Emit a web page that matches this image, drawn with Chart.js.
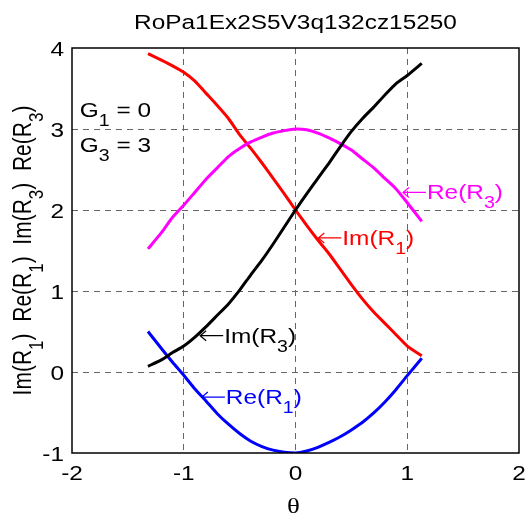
<!DOCTYPE html>
<html>
<head>
<meta charset="utf-8">
<script src="https://cdn.jsdelivr.net/npm/chart.js@4"></script>
<style>
  html, body { margin: 0; padding: 0; background: #fff; }
  canvas { display: block; }
</style>
</head>
<body>
<canvas id="plot" width="528" height="516"></canvas>
<script>
const theta = [-1.32, -1.2, -1.1, -1.0, -0.9, -0.8, -0.7, -0.6, -0.5, -0.4, -0.3, -0.2, -0.1,
  0, 0.1, 0.2, 0.3, 0.4, 0.5, 0.6, 0.7, 0.8, 0.9, 1.0, 1.13];
const imR1 = [3.93, 3.85, 3.78, 3.70, 3.59, 3.44, 3.29, 3.13, 2.93, 2.76, 2.58, 2.39, 2.20,
  2.00, 1.81, 1.63, 1.46, 1.27, 1.08, 0.90, 0.74, 0.60, 0.46, 0.32, 0.20];
const imR3 = [0.07, 0.15, 0.24, 0.32, 0.43, 0.56, 0.70, 0.84, 1.01, 1.20, 1.38, 1.58, 1.79,
  2.00, 2.20, 2.39, 2.58, 2.78, 2.97, 3.13, 3.27, 3.42, 3.56, 3.66, 3.81];
const reR1 = [0.50, 0.29, 0.12, -0.04, -0.21, -0.36, -0.515, -0.645, -0.76, -0.855, -0.92, -0.965, -0.99,
  -1.00, -0.975, -0.93, -0.87, -0.80, -0.715, -0.62, -0.505, -0.37, -0.215, -0.045, 0.17];
const reR3 = [1.52, 1.72, 1.91, 2.06, 2.22, 2.38, 2.52, 2.66, 2.76, 2.84, 2.90, 2.95, 2.98,
  3.00, 2.99, 2.95, 2.89, 2.82, 2.74, 2.63, 2.52, 2.39, 2.26, 2.09, 1.86];

const xTicks = [-2, -1, 0, 1, 2];
const yTicks = [-1, 0, 1, 2, 3, 4];
const titleText = 'RoPa1Ex2S5V3q132cz15250';

// curve labels: anchor (arrow tip) in data units, text pieces [string, isSubscript]
const curveLabels = [
  { x: 0.953, y: 2.217, color: '#ff00ff', parts: [['Re(R', 0], ['3', 1], [')', 0]] },
  { x: 0.195, y: 1.655, color: '#ff0000', parts: [['Im(R', 0], ['1', 1], [')', 0]] },
  { x: -0.862, y: 0.448, color: '#000000', parts: [['Im(R', 0], ['3', 1], [')', 0]] },
  { x: -0.847, y: -0.309, color: '#0000ff', parts: [['Re(R', 0], ['1', 1], [')', 0]] }
];
const paramLabels = [
  { x: -1.93, y: 3.153, parts: [['G', 0], ['1', 1], [' = 0', 0]] },
  { x: -1.93, y: 2.72, parts: [['G', 0], ['3', 1], [' = 3', 0]] }
];
const yLabelParts = [['Im(R', 0], ['1', 1], [')  Re(R', 0], ['1', 1], [')  Im(R', 0], ['3', 1], [')  Re(R', 0], ['3', 1], [')', 0]];

const FONT = '"Liberation Sans", Arial, sans-serif';
const SERIF = '"Liberation Serif", "Times New Roman", serif';
const SX = 1.22; // text in this figure is drawn wide

function points(ys) {
  return theta.map((t, i) => ({ x: t, y: ys[i] }));
}

function subSize(size) { return Math.round(size * 0.8); }

function richWidth(ctx, parts, size, family) {
  let w = 0;
  for (const [t, sub] of parts) {
    ctx.font = (sub ? subSize(size) : size) + 'px ' + family;
    w += ctx.measureText(t).width;
  }
  return w;
}

function drawRich(ctx, parts, x, y, o) {
  const size = o.size || 20;
  const family = o.family || FONT;
  ctx.save();
  ctx.translate(x, y);
  ctx.scale(SX, 1);
  if (o.rotate) ctx.rotate(-Math.PI / 2);
  const w = richWidth(ctx, parts, size, family);
  let cx = o.align === 'center' ? -w / 2 : o.align === 'right' ? -w : 0;
  ctx.fillStyle = o.color || '#000';
  ctx.textBaseline = 'alphabetic';
  for (const [t, sub] of parts) {
    ctx.font = (sub ? subSize(size) : size) + 'px ' + family;
    ctx.fillText(t, cx, sub ? size * 0.45 : 0);
    cx += ctx.measureText(t).width;
  }
  ctx.restore();
}

const decorations = {
  id: 'decorations',
  afterDraw(chart) {
    const { ctx, chartArea: a, scales: { x, y } } = chart;

    // axes box
    ctx.save();
    ctx.strokeStyle = '#000';
    ctx.lineWidth = 1.5;
    ctx.strokeRect(a.left, a.top, a.right - a.left, a.bottom - a.top);
    ctx.restore();

    xTicks.forEach(v => drawRich(ctx, [[String(v), 0]], x.getPixelForValue(v), a.bottom + 27, { align: 'center' }));
    yTicks.forEach(v => drawRich(ctx, [[String(v), 0]], a.left - 8, y.getPixelForValue(v) + 8, { align: 'right' }));

    drawRich(ctx, [[titleText, 0]], (a.left + a.right) / 2, 28.5, { align: 'center' });
    drawRich(ctx, [['θ', 0]], (a.left + a.right) / 2 - 2, 513, { align: 'center', size: 22, family: SERIF });
    drawRich(ctx, yLabelParts, 31, (a.top + a.bottom) / 2, { align: 'center', rotate: true, size: 21 });

    paramLabels.forEach(l => drawRich(ctx, l.parts, x.getPixelForValue(l.x), y.getPixelForValue(l.y), {}));

    curveLabels.forEach(l => {
      const px = x.getPixelForValue(l.x);
      const py = y.getPixelForValue(l.y);
      ctx.save();
      ctx.strokeStyle = l.color;
      ctx.lineWidth = 1.2;
      ctx.beginPath();
      ctx.moveTo(px + 24, py);
      ctx.lineTo(px + 1, py);
      ctx.moveTo(px + 7, py - 5);
      ctx.lineTo(px + 1, py);
      ctx.lineTo(px + 7, py + 5);
      ctx.stroke();
      ctx.restore();
      drawRich(ctx, l.parts, px + 25, py + 7, { color: l.color });
    });
  }
};

function gridColor(c) {
  const s = c.scale;
  return (c.tick && (c.tick.value === s.min || c.tick.value === s.max)) ? 'rgba(0,0,0,0)' : '#666';
}

const series = [
  { label: 'Im(R3)', data: imR3, color: '#000000' },
  { label: 'Re(R3)', data: reR3, color: '#ff00ff' },
  { label: 'Im(R1)', data: imR1, color: '#ff0000' },
  { label: 'Re(R1)', data: reR1, color: '#0000ff' }
];

new Chart(document.getElementById('plot'), {
  type: 'scatter',
  data: {
    datasets: series.map(s => ({
      label: s.label,
      data: points(s.data),
      borderColor: s.color,
      backgroundColor: s.color,
      borderWidth: 3,
      showLine: true,
      pointRadius: 0,
      tension: 0.2
    }))
  },
  options: {
    responsive: false,
    animation: false,
    devicePixelRatio: 1,
    layout: { padding: { left: 72, top: 48, right: 9, bottom: 63 } },
    plugins: { legend: { display: false }, tooltip: { enabled: false } },
    scales: {
      x: {
        type: 'linear', min: -2, max: 2,
        ticks: { display: false, stepSize: 1 },
        grid: { color: gridColor, drawTicks: false, lineWidth: 1 },
        border: { display: false, dash: [6, 5] }
      },
      y: {
        type: 'linear', min: -1, max: 4,
        ticks: { display: false, stepSize: 1 },
        grid: { color: gridColor, drawTicks: false, lineWidth: 1 },
        border: { display: false, dash: [6, 5] }
      }
    }
  },
  plugins: [decorations]
});
</script>
</body>
</html>
